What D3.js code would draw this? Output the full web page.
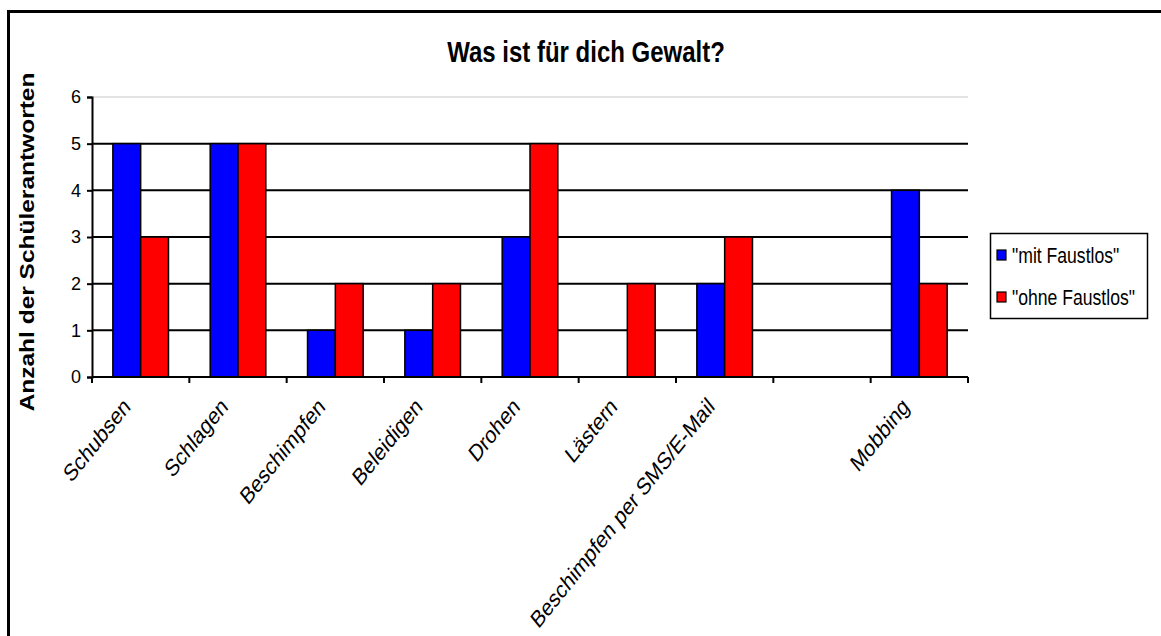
<!DOCTYPE html>
<html>
<head>
<meta charset="utf-8">
<script src="https://cdn.jsdelivr.net/npm/d3@7"></script>
<style>
  body { margin: 0; background: #fff; }
  svg { display: block; }
  text { font-family: "Liberation Sans", Arial, sans-serif; fill: #000; }
</style>
</head>
<body>
<svg id="svg"></svg>
<script>
const width = 1161;
const height = 636;

// data
const categories = ["Schubsen", "Schlagen", "Beschimpfen", "Beleidigen", "Drohen", "Lästern", "Beschimpfen per SMS/E-Mail", "", "Mobbing"];
const mitFaustlos = [5, 5, 1, 1, 3, 0, 2, 0, 4];
const ohneFaustlos = [3, 5, 2, 2, 5, 2, 3, 0, 2];
const seriesNames = ['"mit Faustlos"', '"ohne Faustlos"'];
const seriesColors = ["#0000ff", "#ff0000"];
const yTicks = [0, 1, 2, 3, 4, 5, 6];

// the source picture is squeezed sideways, text too
const sx = 0.8;

const svg = d3.select("#svg")
  .attr("width", width)
  .attr("height", height);

// outer frame (only top and left edge are inside the picture)
svg.append("rect")
  .attr("x", 8.5).attr("y", 11.5)
  .attr("width", 2000).attr("height", 2000)
  .attr("fill", "none")
  .attr("stroke", "#000")
  .attr("stroke-width", 3);

const plot = { left: 92, right: 968, top: 97, bottom: 377 };

const x0 = d3.scaleBand()
  .domain(d3.range(categories.length))
  .range([plot.left, plot.right]);

const x1 = d3.scaleBand()
  .domain([0, 1])
  .range([0, x0.bandwidth()])
  .paddingOuter(0.75);

const y = d3.scaleLinear()
  .domain([0, 6])
  .range([plot.bottom, plot.top]);

// grid lines
svg.append("g")
  .selectAll("line")
  .data(yTicks.filter(d => d > 0))
  .enter().append("line")
  .attr("x1", plot.left).attr("x2", plot.right)
  .attr("y1", d => y(d)).attr("y2", d => y(d))
  .attr("stroke", d => d === 6 ? "#c8c8c8" : "#000")
  .attr("stroke-width", d => d === 6 ? 1 : 2);

// bars
const rows = categories.map((c, i) => ({ i, values: [mitFaustlos[i], ohneFaustlos[i]] }));

svg.append("g")
  .selectAll("g")
  .data(rows)
  .enter().append("g")
  .attr("transform", d => `translate(${x0(d.i)},0)`)
  .selectAll("rect")
  .data(d => d.values.map((v, s) => ({ v, s })).filter(e => e.v > 0))
  .enter().append("rect")
  .attr("x", d => x1(d.s))
  .attr("width", x1.bandwidth())
  .attr("y", d => y(d.v))
  .attr("height", d => y(0) - y(d.v))
  .attr("fill", d => seriesColors[d.s])
  .attr("stroke", "#000")
  .attr("stroke-width", 1.5);

// y axis
const yAxis = svg.append("g")
  .attr("transform", `translate(${plot.left},0)`)
  .call(d3.axisLeft(y).tickValues(yTicks).tickSize(5).tickPadding(6).tickFormat(d3.format("d")));
yAxis.select(".domain").attr("stroke", "#000").attr("stroke-width", 2);
yAxis.selectAll(".tick line").attr("stroke", "#000").attr("stroke-width", 2);
yAxis.selectAll(".tick text")
  .style("font-family", '"Liberation Sans", Arial, sans-serif')
  .style("font-size", "18px");

// x axis line and ticks at category borders
svg.append("line")
  .attr("x1", plot.left).attr("x2", plot.right)
  .attr("y1", plot.bottom).attr("y2", plot.bottom)
  .attr("stroke", "#000").attr("stroke-width", 2);

svg.append("g")
  .selectAll("line")
  .data(d3.range(categories.length + 1))
  .enter().append("line")
  .attr("x1", d => plot.left + d * x0.step())
  .attr("x2", d => plot.left + d * x0.step())
  .attr("y1", plot.bottom).attr("y2", plot.bottom + 6)
  .attr("stroke", "#000").attr("stroke-width", 2);

// category labels, rotated
svg.append("g")
  .selectAll("text")
  .data(categories)
  .enter().append("text")
  .attr("transform", (d, i) => `translate(${x0(i) + x0.bandwidth() / 2 - 9},${plot.bottom + 31}) scale(${sx},1) rotate(-45)`)
  .attr("text-anchor", "end")
  .style("font-size", "24px")
  .text(d => d);

// title
svg.append("text")
  .attr("transform", `translate(586,62) scale(${sx},1)`)
  .attr("text-anchor", "middle")
  .style("font-size", "30px")
  .style("font-weight", "bold")
  .text("Was ist für dich Gewalt?");

// y axis title
svg.append("text")
  .attr("transform", `translate(34,242) scale(${sx},1) rotate(-90)`)
  .attr("text-anchor", "middle")
  .style("font-size", "24.5px")
  .style("font-weight", "bold")
  .text("Anzahl der Schülerantworten");

// legend
const legend = svg.append("g").attr("transform", "translate(990,233)");
legend.append("rect")
  .attr("x", 0.5).attr("y", 0.5)
  .attr("width", 157).attr("height", 85)
  .attr("fill", "#fff").attr("stroke", "#000").attr("stroke-width", 1.5);

const items = legend.selectAll("g.item")
  .data(seriesNames)
  .enter().append("g")
  .attr("class", "item")
  .attr("transform", (d, i) => `translate(0,${17 + i * 42})`);

items.append("rect")
  .attr("x", 7).attr("y", 0)
  .attr("width", 9).attr("height", 10)
  .attr("fill", (d, i) => seriesColors[i])
  .attr("stroke", "#000").attr("stroke-width", 1.2);

items.append("text")
  .attr("transform", `translate(22,13) scale(${sx},1)`)
  .style("font-size", "22px")
  .text(d => d);
</script>
</body>
</html>
